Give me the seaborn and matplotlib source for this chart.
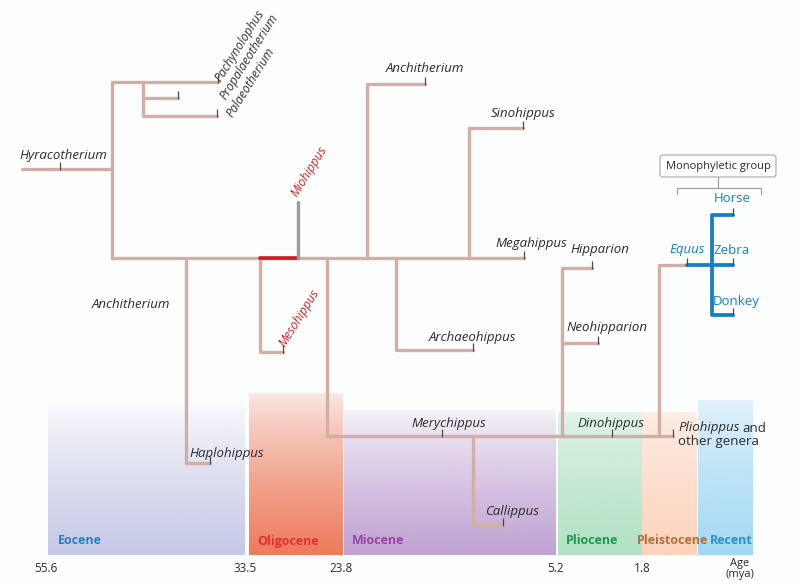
import numpy as np
import pandas as pd
import seaborn as sns
import matplotlib.pyplot as plt
from matplotlib.colors import to_rgb
from matplotlib.patches import FancyBboxPatch

# ---- tree branches (x, y in layout units; y grows downward) ----
branch_names = ['Hyracotherium', 'stem', 'Palaeotherium', 'Propalaeotherium', 'main',
                'Haplohippus', 'Mesohippus', 'Merychippus', 'Anchitherium', 'Sinohippus',
                'Archaeohippus', 'Callippus', 'Hipparion', 'Neohipparion', 'Equus stem']
branch_x = [[22, 112], [112, 112, 218], [143, 143, 217], [143, 178], [112, 524],
            [186, 186, 210], [260, 260, 283], [327, 327, 673], [367, 367, 425], [469, 469, 523],
            [396, 396, 473], [473, 473, 503], [562, 562, 592], [562, 598], [659, 659, 687]]
branch_y = [[169, 169], [258, 82, 82], [82, 116, 116], [98, 98], [258, 258],
            [258, 463, 463], [258, 352, 352], [258, 436, 436], [258, 84, 84], [258, 128, 128],
            [258, 350, 350], [436, 525, 525], [436, 268, 268], [343, 343], [436, 265, 265]]

red_x, red_y = [260, 298], [258, 258]
grey_x, grey_y = [298, 298], [258, 202]
equus_names = ['Zebra', 'Horse-Donkey']
equus_x = [[687, 733], [733, 712, 712, 733]]
equus_y = [[265, 265], [215, 215, 315, 315]]

# tip tick marks
tick_x = [60, 218, 178, 217, 210, 283, 425, 523, 524, 473, 442, 503, 592, 598, 612, 673, 687, 733, 733, 733]
tick_y = [169, 82, 98, 116, 463, 352, 84, 128, 258, 350, 436, 525, 268, 343, 436, 436, 265, 215, 265, 315]

# ---- taxon labels ----
label_text = ['Hyracotherium', 'Anchitherium', 'Haplohippus', 'Anchitherium', 'Sinohippus',
              'Megahippus', 'Archaeohippus', 'Hipparion', 'Neohipparion', 'Merychippus',
              'Dinohippus', 'Callippus']
label_x = [63, 131, 227, 425, 523, 531, 473, 600, 607, 449, 611, 512]
label_y = [155, 304, 453, 69, 114, 244, 337, 250, 328, 423, 423, 511]

rot_text = ['Pachynolophus', 'Propalaeotherium', 'Palaeotherium', 'Miohippus', 'Mesohippus']
rot_x = [221, 226, 232, 297, 285]
rot_y = [82, 100, 118, 197, 347]
rot_color = ['#333333', '#333333', '#333333', '#d0202a', '#d0202a']

blue_text = ['Horse', 'Zebra', 'Donkey']
blue_x = [732, 732, 736]
blue_y = [199, 250, 302]

# ---- epochs ----
epochs = ['Eocene', 'Oligocene', 'Miocene', 'Pliocene', 'Pleistocene', 'Recent']
epoch_x0 = [48, 249, 344, 558, 642, 698]
epoch_x1 = [245, 343, 556, 642, 697, 753]
epoch_top = [400, 393, 410, 412, 412, 400]
epoch_fill = ['#c6c9e7', '#ee7a5a', '#c0a2d2', '#b2e1c4', '#fcd3bb', '#a3d9f5']
epoch_alpha0 = [0.0, 0.15, 0.1, 0.35, 0.35, 0.3]
epoch_text_color = ['#2a7fc2', '#e0302e', '#9a44aa', '#1b9a52', '#b0703e', '#2a92cc']
epoch_label_x = [58, 257, 352, 566, 637, 710]

age_labels = ['55.6', '33.5', '23.8', '5.2', '1.8']
age_x = [46, 245, 341, 556, 642]

BROWN = '#d3aea6'
BLUE = '#1480c2'
TXT = '#2b2b2b'
FS = 9.5

sns.set_theme(style='white')
plt.rcParams['font.family'] = ['Open Sans', 'DejaVu Sans']

fig = plt.figure(figsize=(8, 5.84), dpi=100)
ax = fig.add_axes([0, 0, 1, 1])
fig.patch.set_facecolor('#fcfdfd')
ax.set_facecolor('#fcfdfd')
ax.set_xlim(0, 800)
ax.set_ylim(584, 0)

# epoch bands as vertical gradients
for i, ep in enumerate(epochs):
    n = 64
    rgba = np.zeros((n, 1, 4))
    rgba[:, 0, :3] = to_rgb(epoch_fill[i])
    ramp = np.linspace(0, 1, n) ** 0.8
    rgba[:, 0, 3] = epoch_alpha0[i] + (1 - epoch_alpha0[i]) * ramp
    ax.imshow(rgba, extent=[epoch_x0[i], epoch_x1[i], 555, epoch_top[i]],
              aspect='auto', interpolation='bilinear', zorder=0)
    ax.text(epoch_label_x[i], 541, ep, color=epoch_text_color[i], fontsize=9,
            fontweight='bold', ha='left', va='center', zorder=3)

for lab, x in zip(age_labels, age_x):
    ax.text(x, 568, lab, fontsize=8.5, color=TXT, ha='center', va='center')
ax.text(740, 558, 'Age\n(mya)', fontsize=8, color=TXT, ha='center', va='top', linespacing=0.95)

# tree lines
rows = []
for name, xs, ys in zip(branch_names, branch_x, branch_y):
    for x, y in zip(xs, ys):
        rows.append({'branch': name, 'x': x, 'y': y})
tree = pd.DataFrame(rows)
sns.lineplot(data=tree, x='x', y='y', units='branch', estimator=None, sort=False,
             color=BROWN, lw=2.4, ax=ax, solid_joinstyle='round', zorder=2)

eq_rows = []
for name, xs, ys in zip(equus_names, equus_x, equus_y):
    for x, y in zip(xs, ys):
        eq_rows.append({'branch': name, 'x': x, 'y': y})
eq = pd.DataFrame(eq_rows)
sns.lineplot(data=eq, x='x', y='y', units='branch', estimator=None, sort=False,
             color=BLUE, lw=2.7, ax=ax, solid_joinstyle='round', zorder=2)

sns.lineplot(x=red_x, y=red_y, estimator=None, sort=False, color='#d01a24', lw=2.6, ax=ax, zorder=3)
sns.lineplot(x=grey_x, y=grey_y, estimator=None, sort=False, color='#9b9b9b', lw=2.4, ax=ax, zorder=3)

ax.vlines(tick_x, np.array(tick_y) - 7, np.array(tick_y) + 1, color='#4a4a4a', lw=0.9, zorder=4)

# labels
for t, x, y in zip(label_text, label_x, label_y):
    ax.text(x, y, t, fontsize=FS, style='italic', color=TXT, ha='center', va='center')
for t, x, y, c in zip(rot_text, rot_x, rot_y, rot_color):
    ax.text(x, y, t, fontsize=8.8, style='italic', color=c, rotation=58,
            rotation_mode='anchor', ha='left', va='baseline')
for t, x, y in zip(blue_text, blue_x, blue_y):
    ax.text(x, y, t, fontsize=FS, color=BLUE, ha='center', va='center')
ax.text(687, 250, 'Equus', fontsize=FS, style='italic', color=BLUE, ha='center', va='center')
plio = ax.text(678, 428, 'Pliohippus', fontsize=FS, style='italic', color=TXT, ha='left', va='center')
fig.canvas.draw()
bb = plio.get_window_extent().transformed(ax.transData.inverted())
ax.text(bb.x1 + 3, 428, 'and', fontsize=FS, color=TXT, ha='left', va='center')
ax.text(678, 442, 'other genera', fontsize=FS, color=TXT, ha='left', va='center')

# monophyletic group box and bracket
box = FancyBboxPatch((660, 155), 116, 22, boxstyle='round,pad=0,rounding_size=3',
                     fc='white', ec='#a8a8a8', lw=0.8, zorder=4)
ax.add_patch(box)
ax.text(718, 166, 'Monophyletic group', fontsize=8, color=TXT, ha='center', va='center', zorder=5)
ax.plot([718, 718], [177, 188], color='#a0a0a0', lw=0.9)
ax.plot([677, 677, 761, 761], [194, 188, 188, 194], color='#a0a0a0', lw=0.9)

ax.set_xlim(0, 800)
ax.set_ylim(584, 0)
ax.axis('off')

fig.savefig('out.png', dpi=100, facecolor=fig.get_facecolor())
